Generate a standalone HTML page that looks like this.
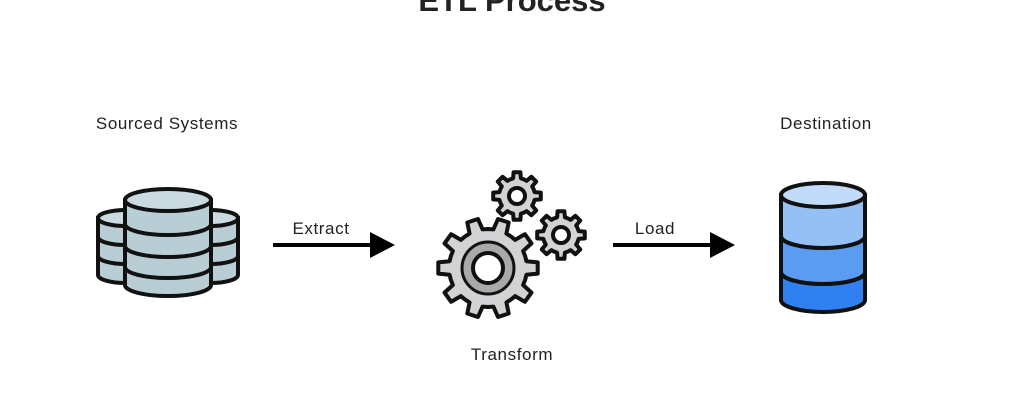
<!DOCTYPE html>
<html><head><meta charset="utf-8"><style>
html,body{margin:0;padding:0;background:#fff;width:1024px;height:404px;overflow:hidden}
svg{display:block}
text{font-family:"Liberation Sans",sans-serif;fill:#222}
.l{font-size:17px;letter-spacing:0.6px}
</style></head><body>
<svg width="1024" height="404" viewBox="0 0 1024 404" xmlns="http://www.w3.org/2000/svg">
<text x="512" y="11" text-anchor="middle" font-size="31" font-weight="bold" fill="#000">ETL Process</text>
<text class="l" x="167" y="129" text-anchor="middle">Sourced Systems</text>
<text class="l" x="826" y="129" text-anchor="middle">Destination</text>
<text class="l" x="512" y="360" text-anchor="middle">Transform</text>
<text class="l" x="321" y="234" text-anchor="middle">Extract</text>
<text class="l" x="655" y="234" text-anchor="middle">Load</text>
<line x1="273" y1="245" x2="372" y2="245" stroke="#000" stroke-width="4"/>
<polygon points="370,232 395,245 370,258" fill="#000"/>
<line x1="613" y1="245" x2="712" y2="245" stroke="#000" stroke-width="4"/>
<polygon points="710,232 735,245 710,258" fill="#000"/>
<g stroke="#111" stroke-width="4" fill="#b9cdd4">
 <path d="M98,218 v57 a28,8 0 0 0 56,0 v-57 z"/>
 <ellipse cx="126" cy="218" rx="28" ry="8" fill="#c9dbe1"/>
 <path d="M98,237 a28,8 0 0 0 56,0 M98,256 a28,8 0 0 0 56,0" fill="none"/>
 <path d="M182,218 v57 a28,8 0 0 0 56,0 v-57 z"/>
 <ellipse cx="210" cy="218" rx="28" ry="8" fill="#c9dbe1"/>
 <path d="M182,237 a28,8 0 0 0 56,0 M182,256 a28,8 0 0 0 56,0" fill="none"/>
 <path d="M125,200 v85 a43,11 0 0 0 86,0 v-85 z"/>
 <ellipse cx="168" cy="200" rx="43" ry="11" fill="#c9dbe1"/>
 <path d="M125,224 a43,11 0 0 0 86,0 M125,246 a43,11 0 0 0 86,0 M125,267 a43,11 0 0 0 86,0" fill="none"/>
</g>
<g stroke="#111" stroke-width="4">
 <path d="M781,272 v28 a42,12 0 0 0 84,0 v-28 a42,12 0 0 1 -84,0 z" fill="#2f80f0"/>
 <path d="M781,236 v36 a42,12 0 0 0 84,0 v-36 a42,12 0 0 1 -84,0 z" fill="#5a9cf2"/>
 <path d="M781,195 v41 a42,12 0 0 0 84,0 v-41 z" fill="#94c0f5"/>
 <ellipse cx="823" cy="195" rx="42" ry="12" fill="#c2dbfa"/>
</g>
<g id="gears" stroke="#111" stroke-width="4" fill="#d3d3d5" stroke-linejoin="round"></g>
</svg>
<script>
function gear(cx,cy,ro,ri,n,hole,inner){
 let d="";const s=Math.PI*2/n;
 for(let i=0;i<n;i++){
  const a=i*s;
  const pts=[[ri,a-s*0.5],[ri,a-s*0.28],[ro,a-s*0.18],[ro,a+s*0.18],[ri,a+s*0.28]];
  pts.forEach((p,j)=>{const x=cx+p[0]*Math.cos(p[1]),y=cy+p[0]*Math.sin(p[1]);d+=(i==0&&j==0?"M":"L")+x.toFixed(1)+","+y.toFixed(1);});
 }
 d+="Z";
 const g=document.getElementById("gears");
 const ns="http://www.w3.org/2000/svg";
 const p=document.createElementNS(ns,"path");p.setAttribute("d",d);g.appendChild(p);
 if(inner){const c=document.createElementNS(ns,"circle");c.setAttribute("cx",cx);c.setAttribute("cy",cy);c.setAttribute("r",inner);c.setAttribute("fill","#a9a9ac");c.setAttribute("stroke-width","3");g.appendChild(c);}
 const h=document.createElementNS(ns,"circle");h.setAttribute("cx",cx);h.setAttribute("cy",cy);h.setAttribute("r",hole);h.setAttribute("fill","#fff");g.appendChild(h);
}
gear(488,268,50,39,10,15,26);
gear(517,196,24,18,8,8,0);
gear(561,235,24,18,8,8,0);
</script>
</body></html>
